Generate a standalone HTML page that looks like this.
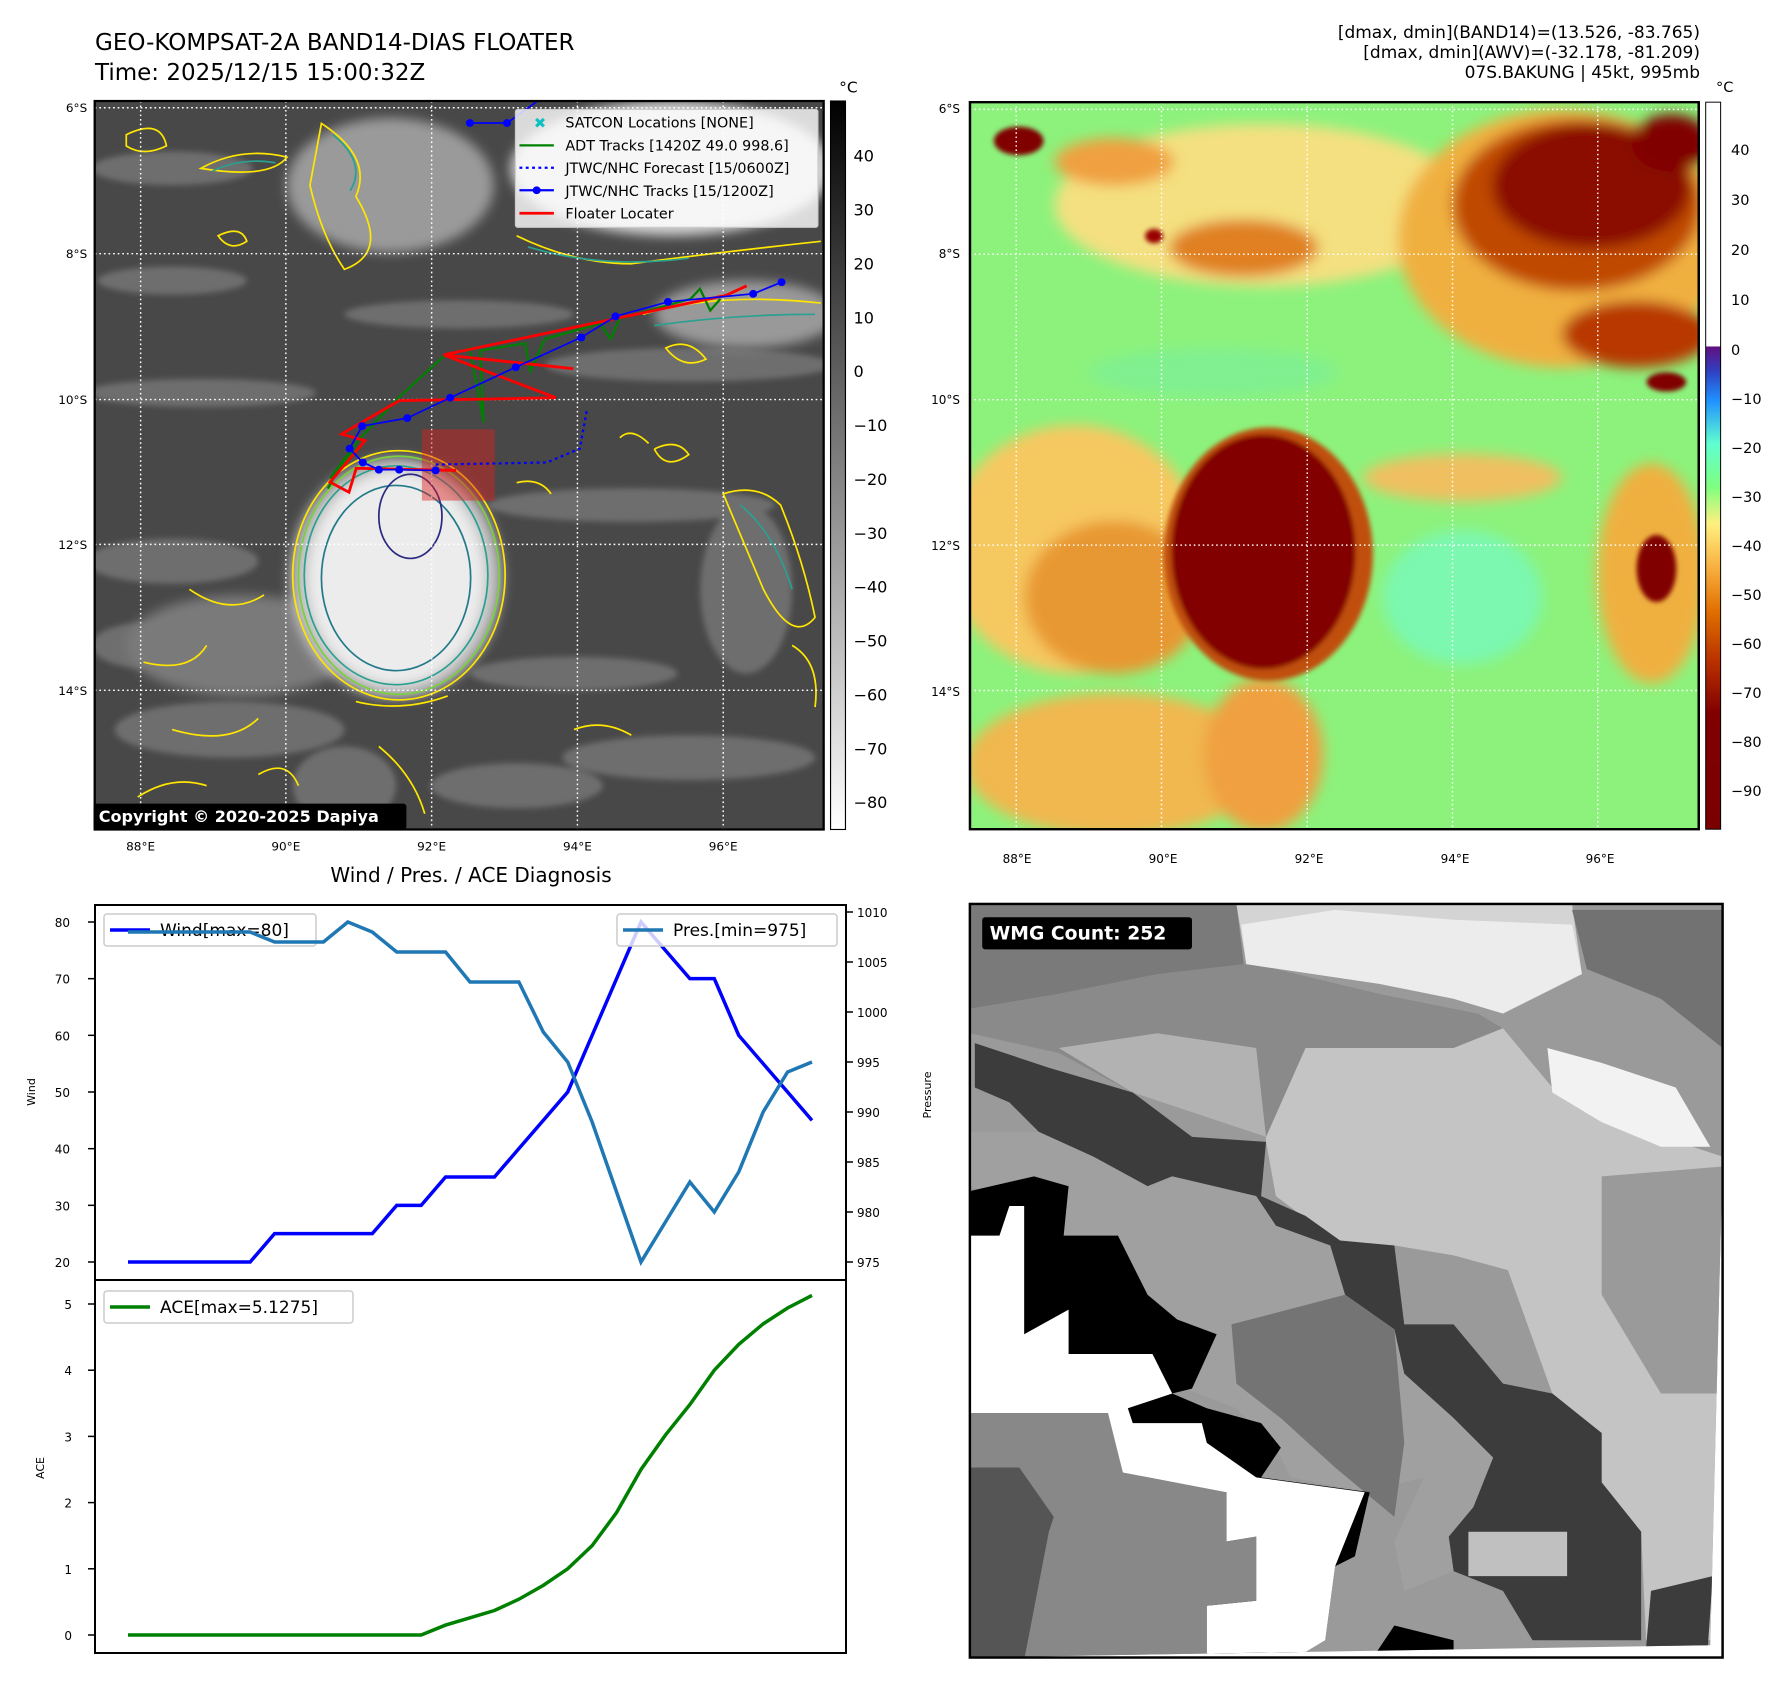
<!DOCTYPE html>
<html><head><meta charset="utf-8"><style>
body{margin:0;background:#fff;width:1788px;height:1690px;overflow:hidden;position:relative;font-family:"Liberation Sans","DejaVu Sans",sans-serif}
svg{position:absolute;overflow:visible}
.t{font-family:"DejaVu Sans","Liberation Sans",sans-serif}
</style></head><body>
<svg style="left:0;top:0" width="1788" height="1690" viewBox="0 0 1788 1690">
<defs>
<linearGradient id="cb1" x1="0" y1="1" x2="0" y2="0"><stop offset="0" stop-color="#fff"/><stop offset="1" stop-color="#000"/></linearGradient>
</defs>
<text class="t" x="95" y="50" font-size="23">GEO-KOMPSAT-2A BAND14-DIAS FLOATER</text>
<text class="t" x="95" y="80" font-size="23">Time: 2025/12/15 15:00:32Z</text>
<g class="t" font-size="17" text-anchor="end">
<text x="1700" y="38">[dmax, dmin](BAND14)=(13.526, -83.765)</text>
<text x="1700" y="58">[dmax, dmin](AWV)=(-32.178, -81.209)</text>
<text x="1700" y="78">07S.BAKUNG | 45kt, 995mb</text></g>
</svg>

<!-- MAP 1 -->
<svg style="left:0;top:0" width="900" height="880" viewBox="0 0 1568 1568" preserveAspectRatio="none">
<defs><clipPath id="m1"><rect x="165" y="180" width="1270" height="1298"/></clipPath>
<filter id="f1"><feGaussianBlur stdDeviation="10"/></filter><filter id="f3"><feGaussianBlur stdDeviation="5"/></filter></defs>
<g clip-path="url(#m1)">
<rect x="165" y="180" width="1270" height="1298" fill="#484848"/>
<g filter="url(#f3)" fill="#6e6e6e">
<ellipse cx="300" cy="300" rx="140" ry="30"/><ellipse cx="350" cy="700" rx="200" ry="25"/><ellipse cx="1100" cy="900" rx="250" ry="30"/>
<ellipse cx="400" cy="1300" rx="200" ry="50"/><ellipse cx="1200" cy="1350" rx="220" ry="40"/><ellipse cx="900" cy="1400" rx="150" ry="40"/>
<ellipse cx="1300" cy="1050" rx="80" ry="150"/><ellipse cx="300" cy="1000" rx="150" ry="40"/><ellipse cx="1200" cy="650" rx="250" ry="30"/>
<ellipse cx="800" cy="560" rx="200" ry="25"/><ellipse cx="300" cy="500" rx="130" ry="25"/><ellipse cx="1000" cy="1200" rx="180" ry="30"/>
<ellipse cx="600" cy="1400" rx="90" ry="70"/><ellipse cx="250" cy="1150" rx="90" ry="40"/>
</g>
<g filter="url(#f1)">
<ellipse cx="680" cy="330" rx="180" ry="120" fill="#9a9a9a"/>
<ellipse cx="1170" cy="300" rx="280" ry="120" fill="#d0d0d0"/>
<ellipse cx="1300" cy="560" rx="160" ry="60" fill="#999"/>
<ellipse cx="420" cy="1150" rx="200" ry="90" fill="#7a7a7a"/>
<ellipse cx="690" cy="1030" rx="185" ry="215" fill="#bdbdbd"/>
<ellipse cx="690" cy="1030" rx="155" ry="190" fill="#ececec"/>
</g>
<g fill="none" stroke-width="3">
<ellipse cx="695" cy="1025" rx="185" ry="222" stroke="#ffe600"/>
<ellipse cx="695" cy="1025" rx="175" ry="212" stroke="#78d23c"/>
<ellipse cx="690" cy="1025" rx="160" ry="195" stroke="#2aa090"/>
<ellipse cx="690" cy="1030" rx="130" ry="165" stroke="#237a8a"/>
<ellipse cx="715" cy="920" rx="55" ry="75" stroke="#2a2a80"/>
<path d="M560 220 Q650 280 620 350 Q680 450 600 480 Q560 420 540 330Z M900 420 Q1000 470 1100 470 Q1250 450 1430 430 M1120 560 Q1250 520 1430 540 M1260 880 Q1320 860 1360 900 Q1400 1000 1420 1100 Q1380 1150 1330 1050Z M1380 1150 Q1430 1180 1420 1260 M220 240 Q280 210 290 260 Q250 280 220 260Z M620 1250 Q700 1270 780 1240 M330 1050 Q400 1100 460 1060 M250 1180 Q330 1200 360 1150 M300 1300 Q400 1330 450 1280 M660 1330 Q720 1380 740 1450 M1140 800 Q1180 780 1200 810 Q1160 840 1140 800 M350 300 Q420 260 500 280 Q470 320 350 300Z M380 420 Q420 400 430 430 Q400 450 380 420Z M1080 780 Q1100 760 1130 790 M900 860 Q940 850 960 880 M1160 620 Q1200 600 1230 640 Q1190 660 1160 620Z M240 1420 Q300 1380 360 1400 M450 1380 Q500 1350 520 1400 M1000 1300 Q1050 1280 1100 1310" stroke="#ffe600"/>
<path d="M580 240 Q640 290 610 340 M920 440 Q1050 480 1200 460 M1140 580 Q1280 560 1420 560 M1290 900 Q1350 950 1380 1050 M370 305 Q420 280 480 290" stroke="#2aa090"/>
</g>
<g stroke="#fff" stroke-width="2.5" stroke-dasharray="3 5">
<line x1="245" y1="180" x2="245" y2="1478"/><line x1="498" y1="180" x2="498" y2="1478"/><line x1="752" y1="180" x2="752" y2="1478"/><line x1="1006" y1="180" x2="1006" y2="1478"/><line x1="1260" y1="180" x2="1260" y2="1478"/>
<line x1="165" y1="192" x2="1435" y2="192"/><line x1="165" y1="452" x2="1435" y2="452"/><line x1="165" y1="712" x2="1435" y2="712"/><line x1="165" y1="970" x2="1435" y2="970"/><line x1="165" y1="1230" x2="1435" y2="1230"/>
</g>
<rect x="735" y="765" width="127" height="127" fill="#e02020" fill-opacity="0.45"/>
<g id="tracks"></g>
</g>
<rect x="165" y="180" width="1270" height="1298" fill="none" stroke="#000" stroke-width="4"/>
<g>
<rect x="898" y="195" width="527" height="210" fill="#fff" fill-opacity="0.8" stroke="#ccc" stroke-width="2" rx="4"/>
<g class="t" font-size="25">
<text x="930" y="228" fill="#10c0c0" font-size="26">✖</text><text x="985" y="227">SATCON Locations [NONE]</text>
<line x1="905" y1="259" x2="965" y2="259" stroke="green" stroke-width="4"/><text x="985" y="268">ADT Tracks [1420Z 49.0 998.6]</text>
<line x1="905" y1="299" x2="965" y2="299" stroke="blue" stroke-width="4" stroke-dasharray="5 6"/><text x="985" y="308">JTWC/NHC Forecast [15/0600Z]</text>
<line x1="905" y1="339" x2="965" y2="339" stroke="blue" stroke-width="4"/><circle cx="935" cy="339" r="7" fill="blue"/><text x="985" y="349">JTWC/NHC Tracks [15/1200Z]</text>
<line x1="905" y1="380" x2="965" y2="380" stroke="red" stroke-width="5"/><text x="985" y="389">Floater Locater</text>
</g></g>
<rect x="1447" y="180" width="26" height="1298" fill="url(#cb1)" stroke="#000" stroke-width="2"/>
<g class="t" font-size="28">
<text x="1462" y="165" font-size="27">°C</text>
<text x="1487" y="288">40</text><text x="1487" y="384">30</text><text x="1487" y="480">20</text><text x="1487" y="576">10</text><text x="1487" y="672">0</text>
<text x="1487" y="768">−10</text><text x="1487" y="864">−20</text><text x="1487" y="960">−30</text><text x="1487" y="1056">−40</text><text x="1487" y="1152">−50</text><text x="1487" y="1248">−60</text><text x="1487" y="1344">−70</text><text x="1487" y="1440">−80</text>
</g>
<g class="t" font-size="21">
<text x="152" y="200" text-anchor="end">6°S</text><text x="152" y="460" text-anchor="end">8°S</text><text x="152" y="720" text-anchor="end">10°S</text><text x="152" y="978" text-anchor="end">12°S</text><text x="152" y="1238" text-anchor="end">14°S</text>
<g text-anchor="middle"><text x="245" y="1515">88°E</text><text x="498" y="1515">90°E</text><text x="752" y="1515">92°E</text><text x="1006" y="1515">94°E</text><text x="1260" y="1515">96°E</text></g>
</g>
<rect x="163" y="1432" width="545" height="46" rx="5" fill="#000"/>
<text class="t" x="172" y="1465" font-size="28" font-weight="bold" fill="#fff">Copyright © 2020-2025 Dapiya</text>
</svg>

<!-- MAP 2 -->
<svg style="left:965px;top:95px" width="780" height="750" viewBox="0 0 1568 1568" preserveAspectRatio="none">
<defs><clipPath id="m2"><rect x="10" y="15" width="1465" height="1520"/></clipPath>
<linearGradient id="cb2" x1="0" y1="1" x2="0" y2="0">
<stop offset="0" stop-color="#7a0000"/><stop offset="0.16" stop-color="#800000"/><stop offset="0.23" stop-color="#b83000"/><stop offset="0.3" stop-color="#e07000"/><stop offset="0.36" stop-color="#f8b040"/><stop offset="0.42" stop-color="#fff080"/><stop offset="0.47" stop-color="#80ff80"/><stop offset="0.53" stop-color="#60ffd0"/><stop offset="0.59" stop-color="#2090ff"/><stop offset="0.63" stop-color="#3040c0"/><stop offset="0.663" stop-color="#601080"/><stop offset="0.665" stop-color="#ffffff"/><stop offset="1" stop-color="#ffffff"/></linearGradient>
<filter id="g1"><feGaussianBlur stdDeviation="14"/></filter><filter id="g2"><feGaussianBlur stdDeviation="5"/></filter></defs>
<g clip-path="url(#m2)">
<rect x="10" y="15" width="1465" height="1520" fill="#8cf27c"/>
<g filter="url(#g1)">
<ellipse cx="600" cy="230" rx="420" ry="170" fill="#f4e080"/>
<ellipse cx="1200" cy="300" rx="330" ry="270" fill="#f0b040"/>
<ellipse cx="1230" cy="230" rx="250" ry="180" fill="#c04800"/>
<ellipse cx="1260" cy="190" rx="200" ry="130" fill="#8a0c00"/>
<ellipse cx="1420" cy="100" rx="80" ry="60" fill="#800000"/>
<ellipse cx="560" cy="320" rx="150" ry="60" fill="#e08020"/>
<ellipse cx="300" cy="140" rx="120" ry="50" fill="#f0a040"/>
<ellipse cx="220" cy="950" rx="260" ry="260" fill="#f6c860"/>
<ellipse cx="300" cy="1050" rx="180" ry="160" fill="#e89830"/>
<ellipse cx="300" cy="1400" rx="300" ry="150" fill="#f0b850"/>
<ellipse cx="600" cy="1380" rx="120" ry="160" fill="#f0a040"/>
<ellipse cx="1380" cy="1000" rx="110" ry="230" fill="#f0b040"/>
<ellipse cx="1000" cy="800" rx="200" ry="50" fill="#f0c060"/>
<ellipse cx="1350" cy="500" rx="150" ry="70" fill="#b83800"/>
<ellipse cx="1000" cy="1050" rx="160" ry="140" fill="#7cf8b0"/>
<ellipse cx="500" cy="580" rx="250" ry="50" fill="#80f090"/>
</g>
<g filter="url(#g2)">
<ellipse cx="610" cy="960" rx="210" ry="265" fill="#c05010"/>
<ellipse cx="600" cy="955" rx="185" ry="245" fill="#820000"/>
<ellipse cx="108" cy="96" rx="50" ry="30" fill="#800000"/>
<ellipse cx="1410" cy="600" rx="40" ry="20" fill="#800000"/>
<ellipse cx="1390" cy="990" rx="40" ry="70" fill="#800000"/>
<ellipse cx="380" cy="295" rx="18" ry="15" fill="#900"/>
</g>
<g stroke="#fff" stroke-width="3" stroke-dasharray="3 6">
<line x1="103" y1="15" x2="103" y2="1535"/><line x1="395" y1="15" x2="395" y2="1535"/><line x1="688" y1="15" x2="688" y2="1535"/><line x1="980" y1="15" x2="980" y2="1535"/><line x1="1272" y1="15" x2="1272" y2="1535"/>
<line x1="10" y1="30" x2="1475" y2="30"/><line x1="10" y1="333" x2="1475" y2="333"/><line x1="10" y1="637" x2="1475" y2="637"/><line x1="10" y1="941" x2="1475" y2="941"/><line x1="10" y1="1245" x2="1475" y2="1245"/>
</g></g>
<rect x="10" y="15" width="1465" height="1520" fill="none" stroke="#000" stroke-width="5"/>
<rect x="1489" y="15" width="30" height="1520" fill="url(#cb2)" stroke="#000" stroke-width="2"/>
</svg>
<svg style="left:0;top:0" width="1788" height="880">
<g class="t" font-size="14.5">
<text x="1716" y="92">°C</text>
<text x="1731" y="155">40</text><text x="1731" y="205">30</text><text x="1731" y="255">20</text><text x="1731" y="305">10</text><text x="1731" y="355">0</text><text x="1731" y="404">−10</text><text x="1731" y="453">−20</text><text x="1731" y="502">−30</text><text x="1731" y="551">−40</text><text x="1731" y="600">−50</text><text x="1731" y="649">−60</text><text x="1731" y="698">−70</text><text x="1731" y="747">−80</text><text x="1731" y="796">−90</text>
</g>
<g class="t" font-size="12">
<text x="960" y="113" text-anchor="end">6°S</text><text x="960" y="258" text-anchor="end">8°S</text><text x="960" y="404" text-anchor="end">10°S</text><text x="960" y="550" text-anchor="end">12°S</text><text x="960" y="696" text-anchor="end">14°S</text>
<g text-anchor="middle"><text x="1017" y="863">88°E</text><text x="1163" y="863">90°E</text><text x="1309" y="863">92°E</text><text x="1455" y="863">94°E</text><text x="1600" y="863">96°E</text></g>
</g>
</svg>

<!-- WMG -->
<svg style="left:960px;top:900px" width="770" height="760" viewBox="0 0 1560 1540" preserveAspectRatio="none">
<defs><clipPath id="m3"><polygon points="20,8 1545,8 1545,520 1520,1510 20,1535"/></clipPath></defs>
<g clip-path="url(#m3)">
<rect x="20" y="8" width="1525" height="1530" fill="#9a9a9a"/>
<polygon fill="#c4c4c4" points="600,130 850,190 1050,230 1100,260 1200,380 1300,440 1545,520 1545,1500 1390,1500 1380,1280 1300,1180 1300,1080 1200,1000 1110,750 1000,720 880,700 760,690 640,600 620,490"/>
<polygon fill="#8a8a8a" points="20,130 600,130 850,190 1050,230 1100,260 1000,300 700,300 620,480 350,390 200,310 20,270"/>
<polygon fill="#7a7a7a" points="20,8 560,8 575,130 400,150 200,190 20,220"/>
<polygon fill="#b2b2b2" points="200,300 400,270 600,300 620,480 350,390"/>
<polygon fill="#d4d4d4" points="560,8 1240,8 1260,150 1100,230 1000,200 850,170 580,130"/>
<polygon fill="#ececec" points="570,50 760,20 1000,40 1240,50 1260,150 1100,230 1000,200 850,170 580,130"/>
<polygon fill="#f2f2f2" points="1190,300 1300,330 1450,380 1520,500 1420,500 1300,450 1200,390"/>
<polygon fill="#727272" points="1240,20 1545,20 1545,300 1420,200 1270,140"/>
<polygon fill="#9a9a9a" points="1300,560 1545,540 1545,1000 1420,1000 1300,800"/>
<polygon fill="#3c3c3c" points="30,290 180,340 350,390 470,480 620,490 610,600 700,640 770,690 880,700 900,860 1000,860 1100,980 1200,1000 1300,1080 1300,1180 1380,1280 1380,1500 1160,1500 1100,1400 1000,1360 990,1290 1040,1230 1080,1130 1000,1050 900,960 880,870 780,800 750,700 640,660 600,600 430,560 380,580 270,520 160,470 100,410 30,380"/>
<polygon fill="#c0c0c0" points="1030,1280 1230,1280 1230,1370 1030,1370"/>
<polygon fill="#a0a0a0" points="20,470 160,470 270,520 380,580 430,560 600,600 640,660 750,700 780,800 880,870 900,960 1000,1050 1080,1130 1040,1230 990,1290 1000,1360 900,1400 880,1300 940,1170 820,1200 670,1170 640,1110 560,1030 430,980 380,900 220,880 200,660 20,580"/>
<polygon fill="#747474" points="550,860 780,800 880,870 900,1100 880,1250 760,1150 650,1050 560,980"/>
<polygon fill="#000" points="20,590 150,560 220,580 210,680 320,680 380,800 440,850 520,880 470,990 430,1000 500,1030 610,1060 650,1110 610,1170 830,1200 800,1330 760,1350 740,1500 690,1530 840,1530 880,1470 1000,1500 1000,1535 500,1535 500,1430 20,1200"/>
<polygon fill="#fff" points="20,680 80,680 100,620 130,620 130,880 220,830 220,920 390,920 430,1000 340,1030 350,1060 490,1060 500,1100 600,1170 820,1200 760,1350 740,1500 690,1530 500,1535 500,1430 600,1420 600,1290 540,1300 540,1200 350,1200 330,1160 220,1110 300,1040 20,1040"/>
<polygon fill="#888" points="20,1040 300,1040 330,1160 540,1200 540,1300 600,1290 600,1420 500,1430 500,1540 20,1540"/>
<polygon fill="#555" points="20,1150 120,1150 190,1250 180,1280 130,1540 20,1540"/>
<polygon fill="#3c3c3c" points="1400,1400 1525,1370 1515,1515 1390,1515"/>
</g>
<rect x="20" y="8" width="1525" height="1527" fill="none" stroke="#000" stroke-width="5"/>
<rect x="45" y="35" width="425" height="65" rx="6" fill="#000"/>
<text class="t" x="60" y="80" font-size="38" font-weight="bold" fill="#fff">WMG Count: 252</text>
</svg>

<!-- BOTTOM CHART -->
<svg id="chart" style="left:0;top:860px" width="960" height="830" viewBox="0 860 960 830"></svg>

<script>
// ---- track data (lon E, lat S) ----
const jtwcLon=[96.8,96.41,95.24,94.52,94.05,93.15,92.25,91.66,91.04,90.87,91.05,91.27,91.55,92.05];
const jtwcLat=[8.4,8.56,8.67,8.87,9.16,9.57,9.99,10.27,10.38,10.69,10.88,10.98,10.98,10.99];
const fcstLon=[92.05,93.58,94.03,94.13];
const fcstLat=[10.91,10.88,10.69,10.14];
const floaterLon=[96.32,96.04,92.16,93.94,92.16,93.70,91.55,90.76,91.08,90.60,90.86,90.96,92.33];
const floaterLat=[8.45,8.58,9.40,9.59,9.40,9.99,10.03,10.49,10.58,11.15,11.29,10.96,10.99];
const adtLon=[90.57,90.80,91.01,90.60,91.01,91.56,92.16,92.52,92.71,92.66,93.28,93.35,93.55,94.31,94.45,94.58,95.55,95.68,95.82,95.96];
const adtLat=[11.24,10.82,10.66,11.10,10.55,9.97,9.42,9.31,10.33,9.34,9.24,9.62,9.18,8.97,9.18,8.90,8.63,8.49,8.79,8.63];
// ---- chart data ----
const wind=[20,20,20,20,20,20,25,25,25,25,25,30,30,35,35,35,40,45,50,60,70,80,75,70,70,60,55,50,45];
const pres=[1008,1008,1008,1008,1008,1008,1007,1007,1007,1009,1008,1006,1006,1006,1003,1003,1003,998,995,989,982,975,979,983,980,984,990,994,995];
const ace=[0,0,0,0,0,0,0,0,0,0,0,0,0,0.15,0.26,0.37,0.54,0.75,1.0,1.35,1.85,2.5,3.02,3.48,4.0,4.39,4.7,4.94,5.13];
const windTicks=[20,30,40,50,60,70,80];
const presTicks=[975,980,985,990,995,1000,1005,1010];
const aceTicks=[0,1,2,3,4,5];

const NS='http://www.w3.org/2000/svg';
function mk(p,tag,at){const e=document.createElementNS(NS,tag);for(const k in at)e.setAttribute(k,at[k]);p.appendChild(e);return e;}
const px=lon=>245+(lon-88)*126.9, py=lat=>192+(lat-6)*129.5;
const tg=document.getElementById('tracks');
function trk(lons,lats,col,w,dash,name,dots){
  const pts=lons.map((l,i)=>px(l)+','+py(lats[i])).join(' ');
  const pl=mk(tg,'polyline',{points:pts,fill:'none',stroke:col,'stroke-width':w});
  if(dash)pl.setAttribute('stroke-dasharray',dash);
  
  
  if(dots)lons.forEach((l,i)=>{const c=mk(tg,'circle',{cx:px(l),cy:py(lats[i]),r:7,fill:col});
    
    });
}
trk(adtLon,adtLat,'green',4,null,'adt-track',false);
trk(fcstLon,fcstLat,'blue',4,'5 6','jtwc-forecast',false);
trk(floaterLon,floaterLat,'red',5,null,'floater-track',false);
trk(jtwcLon,jtwcLat,'blue',3,null,'jtwc-track',true);
trk([92.52,93.03,93.6],[6.21,6.21,5.8],'blue',3,null,'jtwc-track-north',true);

const C=document.getElementById('chart');
const X0=128,X1=812,L=95,R=846,T1=905,B1=1280,B2=1653;
const xs=i=>X0+(X1-X0)*i/(wind.length-1);
const yW=v=>1262-(v-20)*(1262-922)/60;
const yP=v=>1262-(v-975)*(1262-912)/35;
const yA=v=>1635-v*(1635-1304)/5;
const F='"DejaVu Sans","Liberation Sans",sans-serif';
function txt(x,y,s,fs,anchor,name,rot){const t=mk(C,'text',{x:x,y:y,'font-size':fs,'font-family':F,'text-anchor':anchor||'start'});t.textContent=s;
  if(rot)t.setAttribute('transform','rotate(-90 '+x+' '+y+')');
  
  return t;}
txt(471,882,'Wind / Pres. / ACE Diagnosis',20,'middle','chart-title');
windTicks.forEach(v=>{mk(C,'line',{x1:L-7,x2:L,y1:yW(v),y2:yW(v),stroke:'#000','stroke-width':1.5});txt(70,yW(v)+5,String(v),12,'end','wind-tick');});
presTicks.forEach(v=>{mk(C,'line',{x1:R,x2:R+7,y1:yP(v),y2:yP(v),stroke:'#000','stroke-width':1.5});txt(857,yP(v)+5,String(v),12,'start','pressure-tick');});
aceTicks.forEach(v=>{mk(C,'line',{x1:L-7,x2:L,y1:yA(v),y2:yA(v),stroke:'#000','stroke-width':1.5});txt(72,yA(v)+5,String(v),12,'end','ace-tick');});
txt(35,1092,'Wind',11,'middle','wind-axis-title',true);
txt(931,1095,'Pressure',11,'middle','pressure-axis-title',true);
txt(44,1468,'ACE',11,'middle','ace-axis-title',true);
function line(vals,fy,col,name){const p=mk(C,'polyline',{points:vals.map((v,i)=>xs(i)+','+fy(v)).join(' '),fill:'none',stroke:col,'stroke-width':3.5});
  
  }
line(wind,yW,'#0000ff','wind-line');
line(ace,yA,'#008000','ace-line');
function leg(x,y,w,col,label,name){const g=mk(C,'g',{});
  
  
  mk(g,'rect',{x:x,y:y,width:w,height:32,rx:3,fill:'#fff','fill-opacity':0.8,stroke:'#ccc','stroke-width':1.5});
  mk(g,'line',{x1:x+6,x2:x+46,y1:y+16,y2:y+16,stroke:col,'stroke-width':3.5});
  const t=mk(g,'text',{x:x+56,y:y+22,'font-size':17,'font-family':F});t.textContent=label;}
leg(104,914,212,'#0000ff','Wind[max=80]','wind-legend');
line(pres,yP,'#1f77b4','pressure-line');
leg(617,914,220,'#1f77b4','Pres.[min=975]','pressure-legend');
leg(104,1291,249,'#008000','ACE[max=5.1275]','ace-legend');
mk(C,'rect',{x:L,y:T1,width:R-L,height:B2-T1,fill:'none',stroke:'#000','stroke-width':2});
mk(C,'line',{x1:L,x2:R,y1:B1,y2:B1,stroke:'#000','stroke-width':2});
</script>
</body></html>
